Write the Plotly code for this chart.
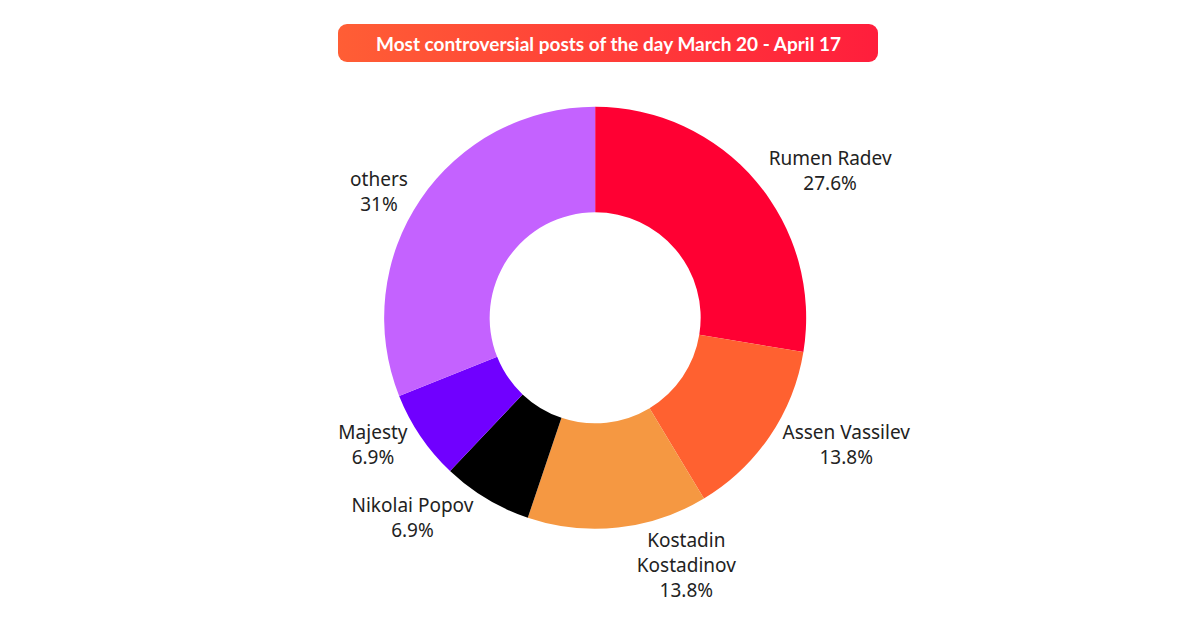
import plotly.graph_objects as go
import base64

labels = ["Rumen Radev", "Assen Vassilev", "Kostadin<br>Kostadinov", "Nikolai Popov", "Majesty", "others"]
values = [8, 4, 4, 2, 2, 9]
colors = ["#FF0033", "#FF6130", "#F59842", "#000000", "#7000FF", "#C462FF"]
title = "Most controversial posts of the day March 20 - April 17"

svg = ('<svg xmlns="http://www.w3.org/2000/svg" width="540" height="38" viewBox="0 0 540 38" preserveAspectRatio="none">'
       '<defs><linearGradient id="g" x1="0" x2="1" y1="0" y2="0">'
       '<stop offset="0" stop-color="#FF5E35"/><stop offset="1" stop-color="#FF1E3C"/>'
       '</linearGradient></defs><rect width="540" height="38" rx="9" fill="url(#g)"/></svg>')
uri = "data:image/svg+xml;base64," + base64.b64encode(svg.encode()).decode()

fig = go.Figure(go.Pie(
    labels=labels, values=values, marker=dict(colors=colors),
    hole=0.5, sort=False, direction="clockwise", rotation=0,
    textposition="outside", texttemplate="%{label}<br>%{percent}",
    textfont=dict(family="Noto Sans", size=19, color="#222"),
    showlegend=False, domain=dict(x=[0.3133, 0.6653], y=[0.1707, 0.8427]),
))
fig.update_layout(
    width=1200, height=628, margin=dict(l=0, r=0, t=0, b=0),
    paper_bgcolor="white",
    images=[dict(source=uri, xref="paper", yref="paper", x=330/1200, y=1-16/628,
                 sizex=540/1200, sizey=38/628, sizing="stretch", xanchor="left", yanchor="top", layer="below")],
    annotations=[dict(text="<b>" + title + "</b>", xref="paper", yref="paper", x=600/1200, y=1-35/628,
                      xanchor="center", yanchor="middle",
                      showarrow=False, font=dict(family="Lato", size=19, color="white"))],
)
fig.write_html("out.html")
